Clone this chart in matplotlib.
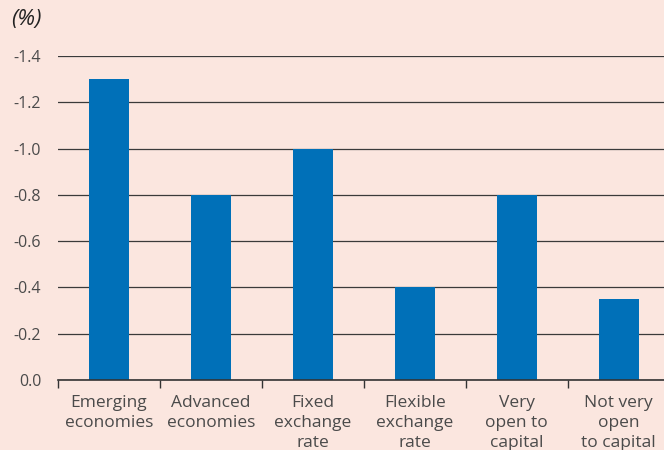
import matplotlib
matplotlib.use("Agg")
import matplotlib.pyplot as plt
import numpy as np

categories = ["Emerging\neconomies", "Advanced\neconomies", "Fixed\nexchange\nrate",
              "Flexible\nexchange\nrate", "Very\nopen to\ncapital", "Not very\nopen\nto capital"]
values = [-1.3, -0.8, -1.0, -0.4, -0.8, -0.35]
yticks = [0.0, -0.2, -0.4, -0.6, -0.8, -1.0, -1.2, -1.4]

bg = "#FBE6DF"
bar_color = "#0070B8"
text_color = "#4a4a4a"

plt.rcParams['font.family'] = ['Open Sans', 'DejaVu Sans']

fig = plt.figure(figsize=(6.64, 4.5), dpi=100, facecolor=bg)
ax = fig.add_axes([58/664, 70/450, 611.6/664, 324/450], facecolor=bg)

x = np.arange(len(categories))
ax.bar(x, values, width=0.39, color=bar_color, zorder=3)

ax.set_xlim(-0.5, len(categories) - 0.5)
ax.set_ylim(0, -1.4)
ax.set_yticks(yticks)
ax.set_yticklabels([f"{v:.1f}" for v in yticks], fontsize=11.5, color=text_color)
ax.yaxis.grid(True, color="#3a3a3a", linewidth=0.9, zorder=1)
ax.tick_params(axis='y', length=0, pad=12)

ax.set_xticks(x)
ax.set_xticklabels(categories, fontsize=12.5, color=text_color, linespacing=1.33)
ax.set_xticks(np.arange(-0.5, len(categories)), minor=True)
ax.tick_params(axis='x', which='major', length=0, pad=11)
ax.tick_params(axis='x', which='minor', length=6, width=1, color="#333333", direction='out')

for s in ["top", "right", "left"]:
    ax.spines[s].set_visible(False)
ax.spines["bottom"].set_color("#333333")
ax.spines["bottom"].set_linewidth(1.2)
ax.spines["bottom"].set_zorder(4)

fig.text(11/664, 1 - 19/450, "(%)", fontsize=16, style='italic', color="#222222",
         va='center', ha='left')

fig.savefig("out.png", dpi=100, facecolor=bg)
